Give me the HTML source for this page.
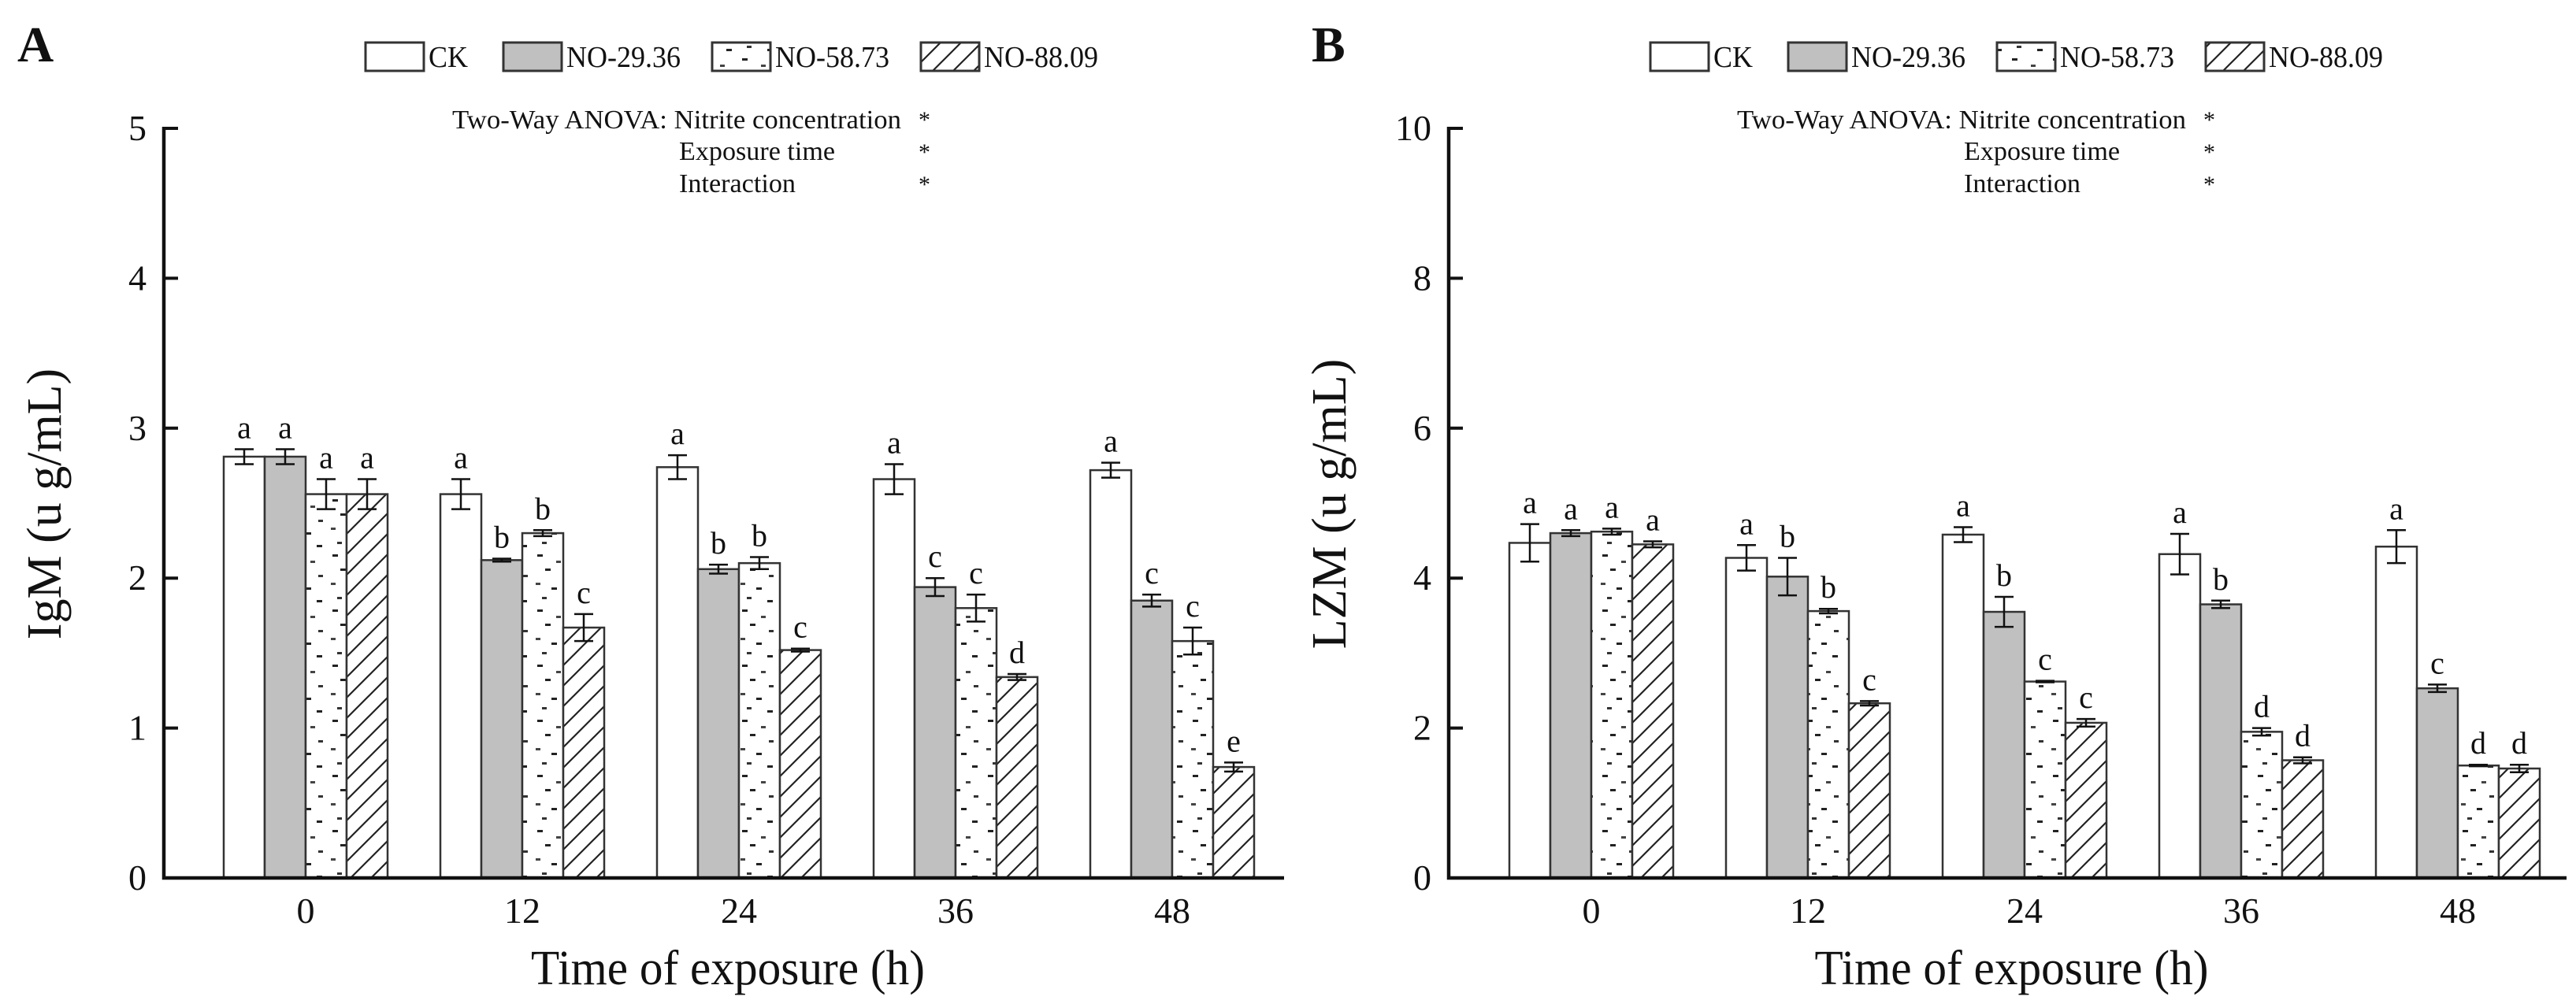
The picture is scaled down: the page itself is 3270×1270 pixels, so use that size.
<!DOCTYPE html>
<html><head><meta charset="utf-8"><style>
html,body{margin:0;padding:0;background:#fff;}
svg{display:block;font-family:"Liberation Serif",serif;}
</style></head><body>
<svg id="fig" width="3270" height="1270" viewBox="0 0 3270 1270" xmlns="http://www.w3.org/2000/svg">
<defs>
<pattern id="dots" patternUnits="userSpaceOnUse" width="52" height="70">
<rect width="52" height="70" fill="#fff"/>
<rect x="6" y="4" width="7" height="3" fill="#222"/><rect x="30" y="12" width="6" height="3" fill="#444"/>
<rect x="16" y="22" width="7" height="3" fill="#222"/><rect x="40" y="30" width="6" height="3" fill="#333"/>
<rect x="4" y="40" width="6" height="3" fill="#444"/><rect x="24" y="46" width="7" height="3" fill="#222"/>
<rect x="12" y="58" width="6" height="3" fill="#333"/><rect x="38" y="62" width="7" height="3" fill="#222"/>
</pattern>
<pattern id="hatch" patternUnits="userSpaceOnUse" width="26" height="26">
<rect width="26" height="26" fill="#fff"/>
<path d="M-2,28 L28,-2 M-15,15 L15,-15 M11,41 L41,11" stroke="#222" stroke-width="2.2"/>
</pattern>
</defs>
</svg>
<script>
const categories = ["0","12","24","36","48"];
const seriesNames = ["CK","NO-29.36","NO-58.73","NO-88.09"];
const igmCK = [2.81,2.56,2.74,2.66,2.72];
const igmNO29 = [2.81,2.12,2.06,1.94,1.85];
const igmNO58 = [2.56,2.30,2.10,1.80,1.58];
const igmNO88 = [2.56,1.67,1.52,1.34,0.74];
const igmErrCK = [0.05,0.10,0.08,0.10,0.05];
const igmErrNO29 = [0.05,0.01,0.03,0.06,0.04];
const igmErrNO58 = [0.10,0.02,0.04,0.09,0.09];
const igmErrNO88 = [0.10,0.09,0.01,0.02,0.03];
const igmLetCK = ["a","a","a","a","a"];
const igmLetNO29 = ["a","b","b","c","c"];
const igmLetNO58 = ["a","b","b","c","c"];
const igmLetNO88 = ["a","c","c","d","e"];
const igmTicks = [0,1,2,3,4,5];
const lzmCK = [4.47,4.27,4.58,4.32,4.42];
const lzmNO29 = [4.60,4.02,3.55,3.65,2.53];
const lzmNO58 = [4.62,3.56,2.62,1.95,1.50];
const lzmNO88 = [4.45,2.33,2.07,1.57,1.46];
const lzmErrCK = [0.25,0.17,0.10,0.27,0.22];
const lzmErrNO29 = [0.04,0.25,0.20,0.05,0.05];
const lzmErrNO58 = [0.04,0.03,0.01,0.05,0.01];
const lzmErrNO88 = [0.04,0.03,0.05,0.04,0.05];
const lzmLetCK = ["a","a","a","a","a"];
const lzmLetNO29 = ["a","b","b","b","c"];
const lzmLetNO58 = ["a","b","c","d","d"];
const lzmLetNO88 = ["a","c","c","d","d"];
const lzmTicks = [0,2,4,6,8,10];

const svg = document.getElementById('fig');
const NS = "http://www.w3.org/2000/svg";
function mk(tag, attrs, parent){
  const e = document.createElementNS(NS, tag);
  for (const k in attrs) e.setAttribute(k, attrs[k]);
  (parent||svg).appendChild(e); return e;
}
function txt(str, attrs, parent){ const t = mk('text', attrs, parent); t.textContent = str; return t; }
const fills = ["#fff","#c0c0c0","url(#dots)","url(#hatch)"];

function panel(opt){
  const g = mk('g', {});
  
  
  const ax = opt.ax, base = 1115, top = 163, right = opt.right, ymax = opt.ymax;
  const y = v => base - (v / ymax) * (base - top);
  const x0 = opt.g0, step = 275, bw = 52;
  const gx = i => x0 + i * step;
  for (let s = 0; s < 4; s++){
    const vals = opt.vals[s], errs = opt.errs[s], lets = opt.lets[s];
    for (let i = 0; i < categories.length; i++){
      const bx = gx(i) - 2*bw + s*bw;
      const r = mk('rect', {x:bx, y:y(vals[i]), width:bw, height:base - y(vals[i]), fill:fills[s], stroke:"#333", "stroke-width":2.5}, g);
      
      
      const cx = bx + bw/2, yt = y(vals[i] + errs[i]), yb = y(vals[i] - errs[i]);
      const eb = mk('path', {d:`M${cx},${yt}L${cx},${yb}M${cx-12},${yt}L${cx+12},${yt}M${cx-12},${yb}L${cx+12},${yb}`, stroke:"#111", "stroke-width":2.5, fill:"none"}, g);
      
      
      const l = txt(lets[i], {x:cx, y:yt - 14, "font-size":40, "text-anchor":"middle", fill:"#111"}, g);
      
      
    }
  }
  const axes = mk('path', {d:`M${ax},${top-2}L${ax},${base}L${right},${base}`, stroke:"#111", "stroke-width":4.5, fill:"none"}, g);
  
  
  opt.ticks.forEach(t => {
    mk('line', {x1:ax, x2:ax+18, y1:y(t), y2:y(t), stroke:"#111", "stroke-width":4}, g);
    const tl = txt(String(t), {x:ax-22, y:y(t)+15, "font-size":46, "text-anchor":"end", fill:"#111"}, g);
    
    
  });
  categories.forEach((c, i) => {
    const tl = txt(c, {x:gx(i), y:1172, "font-size":46, "text-anchor":"middle", fill:"#111"}, g);
    
    
  });
  const xt = txt("Time of exposure (h)", {x:(ax+right)/2+5, y:1250, "font-size":62, "text-anchor":"middle", fill:"#111", textLength:500, lengthAdjust:"spacingAndGlyphs"}, g);
  
  
  const yt = txt(opt.ylabel, {x:0, y:0, "font-size":62, "text-anchor":"middle", fill:"#111", transform:`translate(${ax-131},640) rotate(-90)`}, g);
  
  
  const pl = txt(opt.letter, {x:opt.letterX, y:78, "font-size":64, "font-weight":"bold", fill:"#111"}, g);
  
  
  const lo = [256, 431, 696, 961];
  seriesNames.forEach((n, s) => {
    const lx = ax + lo[s];
    const lg = mk('g', {}, g);
    
    
    mk('rect', {x:lx, y:54, width:74, height:36, fill:fills[s], stroke:"#333", "stroke-width":3}, lg);
    txt(n, {x:lx+80, y:85, "font-size":38, fill:"#111", textLength: n === "CK" ? 50 : 145, lengthAdjust:"spacingAndGlyphs"}, lg);
  });
  const an = mk('g', {"font-size":34, fill:"#111"}, g);
  
  
  txt("Two-Way ANOVA: Nitrite concentration", {x:ax+366, y:163, textLength:570, lengthAdjust:"spacingAndGlyphs"}, an);
  txt("Exposure time", {x:ax+654, y:203, textLength:198, lengthAdjust:"spacingAndGlyphs"}, an);
  txt("Interaction", {x:ax+654, y:244, textLength:148, lengthAdjust:"spacingAndGlyphs"}, an);
  ["*","*","*"].forEach((st, k) => txt(st, {x:ax+958, y:162 + k*41, "font-size":30}, an));
}

panel({name:"panel-a-igm", ax:208, right:1630, g0:388, ymax:5, ticks:igmTicks, ylabel:"IgM (u g/mL)", letter:"A", letterX:22,
  vals:[igmCK,igmNO29,igmNO58,igmNO88], errs:[igmErrCK,igmErrNO29,igmErrNO58,igmErrNO88], lets:[igmLetCK,igmLetNO29,igmLetNO58,igmLetNO88]});
panel({name:"panel-b-lzm", ax:1839, right:3258, g0:2020, ymax:10, ticks:lzmTicks, ylabel:"LZM (u g/mL)", letter:"B", letterX:1665,
  vals:[lzmCK,lzmNO29,lzmNO58,lzmNO88], errs:[lzmErrCK,lzmErrNO29,lzmErrNO58,lzmErrNO88], lets:[lzmLetCK,lzmLetNO29,lzmLetNO58,lzmLetNO88]});
</script>
</body></html>
